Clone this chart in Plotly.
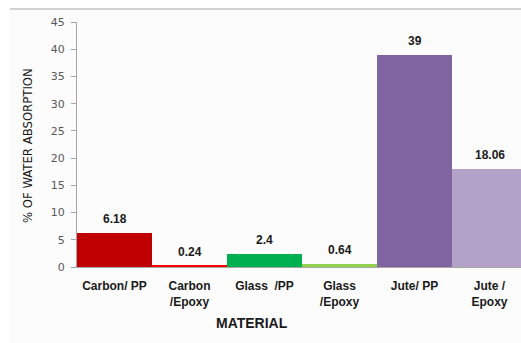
import plotly.graph_objects as go

# Water absorption by composite material
materials = ["Carbon/ PP", "Carbon<br>/Epoxy", "Glass  /PP", "Glass<br>/Epoxy", "Jute/ PP", "Jute /<br>Epoxy"]
absorption = [6.18, 0.24, 2.4, 0.64, 39, 18.06]
value_labels = ["6.18", "0.24", "2.4", "0.64", "39", "18.06"]
bar_colors = ["#c00000", "#ff0000", "#00b050", "#92d050", "#8064a2", "#b3a2c7"]
y_ticks = list(range(0, 50, 5))

W, H = 521, 343
L, R, T, B = 77, 0, 22, 76

fig = go.Figure(go.Bar(
    x=list(range(len(materials))),
    y=absorption,
    marker=dict(color=bar_colors, line=dict(width=0)),
    width=1.0,
))

# value labels above each bar
for i, (v, t) in enumerate(zip(absorption, value_labels)):
    fig.add_annotation(x=i, y=v, text=f"<b>{t}</b>", showarrow=False,
                       yanchor="bottom", yshift=5,
                       font=dict(family="Liberation Sans", size=12, color="#1a1a1a"))

pw = W - L - R
ph = H - T - B
def px_x(p):
    return (p - L) / pw
def px_y(p):
    return (H - B - p) / ph

# light panel behind the chart and thin rule along its top
fig.add_shape(type="rect", xref="paper", yref="paper",
              x0=px_x(10), x1=px_x(W + 5), y0=px_y(9), y1=px_y(H + 5),
              fillcolor="#fcfcfc", line=dict(width=0), layer="below")
fig.add_shape(type="line", xref="paper", yref="paper",
              x0=px_x(10), x1=px_x(W + 5), y0=px_y(9), y1=px_y(9),
              line=dict(color="#a6a6a6", width=1.2))

fig.add_annotation(xref="paper", yref="paper", x=px_x(252), y=px_y(323),
                   text="<b>MATERIAL</b>", showarrow=False,
                   xanchor="center", yanchor="middle",
                   font=dict(family="Liberation Sans", size=14, color="#1a1a1a"))
fig.add_annotation(xref="paper", yref="paper", x=px_x(27), y=px_y(146),
                   text="% OF WATER ABSORPTION", showarrow=False, textangle=-90,
                   xanchor="center", yanchor="middle",
                   font=dict(family="DejaVu Sans Condensed, Liberation Sans", size=13,
                             color="#1a1a1a"))

fig.update_layout(
    width=W, height=H,
    margin=dict(l=L, r=R, t=T, b=B, pad=0),
    paper_bgcolor="white",
    plot_bgcolor="rgba(0,0,0,0)",
    showlegend=False,
    bargap=0,
    xaxis=dict(
        range=[-0.5, 5.5 - 6 / 75],
        tickmode="array", tickvals=list(range(len(materials))),
        ticktext=[f"<b>{m}</b>" for m in materials],
        tickfont=dict(family="Liberation Sans", size=12, color="#1a1a1a"),
        showline=True, linecolor="#a6a6a6", linewidth=1,
        ticks="", showgrid=False, zeroline=False,
        ticklabelstandoff=8,
    ),
    yaxis=dict(
        range=[0, 45], tickvals=y_ticks,
        tickfont=dict(family="DejaVu Sans", size=11, color="#595959"),
        showline=True, linecolor="#a6a6a6", linewidth=1,
        ticks="outside", ticklen=5, tickcolor="#a6a6a6",
        showgrid=False, zeroline=False,
        ticklabelstandoff=4,
    ),
)

fig.write_html("out.html")
